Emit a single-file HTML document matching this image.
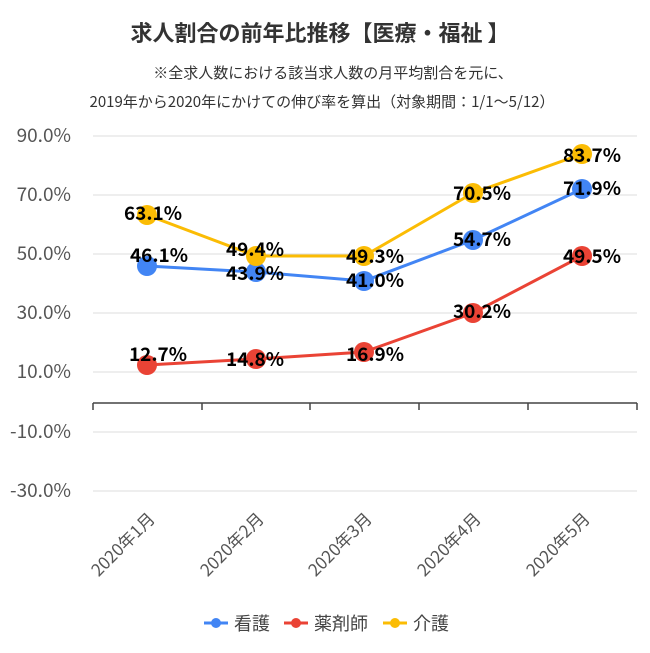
<!DOCTYPE html>
<html><head><meta charset="utf-8"><style>
body{margin:0;background:#fff;}
svg text{font-family:"Noto Sans CJK JP","Liberation Sans",sans-serif;}
</style></head><body>
<svg width="650" height="648" viewBox="0 0 650 648" xmlns="http://www.w3.org/2000/svg">
<rect width="650" height="648" fill="#fff"/>
<text x="320" y="41" text-anchor="middle" font-size="22" font-weight="bold" fill="#333">求人割合の前年比推移【医療・福祉 】</text>
<text x="333" y="78" text-anchor="middle" font-size="15" fill="#333">※全求人数における該当求人数の月平均割合を元に、</text>
<text x="322" y="107" text-anchor="middle" font-size="15" fill="#333">2019年から2020年にかけての伸び率を算出（対象期間：1/1〜5/12）</text>
<g stroke="#ddd" stroke-width="1">
<line x1="93" x2="637" y1="136" y2="136"/><line x1="93" x2="637" y1="195" y2="195"/>
<line x1="93" x2="637" y1="254" y2="254"/><line x1="93" x2="637" y1="313" y2="313"/>
<line x1="93" x2="637" y1="372" y2="372"/><line x1="93" x2="637" y1="432" y2="432"/>
<line x1="93" x2="637" y1="491" y2="491"/>
</g>
<g stroke="#444" stroke-width="1.5">
<line x1="93" x2="637" y1="403" y2="403"/>
<line x1="93" x2="93" y1="403" y2="410"/><line x1="202" x2="202" y1="403" y2="410"/>
<line x1="310" x2="310" y1="403" y2="410"/><line x1="419" x2="419" y1="403" y2="410"/>
<line x1="528" x2="528" y1="403" y2="410"/><line x1="637" x2="637" y1="403" y2="410"/>
</g>
<g font-size="19" fill="#555" text-anchor="end">
<text x="71" y="142">90.0%</text><text x="71" y="201">70.0%</text><text x="71" y="260">50.0%</text>
<text x="71" y="319">30.0%</text><text x="71" y="378">10.0%</text><text x="71" y="438">-10.0%</text>
<text x="71" y="497">-30.0%</text>
</g>
<g font-size="17" fill="#555" text-anchor="end">
<text transform="translate(156,520) rotate(-45)">2020年1月</text>
<text transform="translate(265,520) rotate(-45)">2020年2月</text>
<text transform="translate(373,520) rotate(-45)">2020年3月</text>
<text transform="translate(482,520) rotate(-45)">2020年4月</text>
<text transform="translate(591,520) rotate(-45)">2020年5月</text>
</g>
<polyline fill="none" stroke="#4285f4" stroke-width="3" points="147,266 256,272 364,281 473,240 582,189"/>
<polyline fill="none" stroke="#ea4335" stroke-width="3" points="147,365 256,359 364,352 473,313 582,256"/>
<polyline fill="none" stroke="#fbbc04" stroke-width="3" points="147,215 256,256 364,256 473,193 582,154"/>
<g fill="#4285f4"><circle cx="147" cy="266" r="10"/><circle cx="256" cy="272" r="10"/><circle cx="364" cy="281" r="10"/><circle cx="473" cy="240" r="10"/><circle cx="582" cy="189" r="10"/></g>
<g fill="#ea4335"><circle cx="147" cy="365" r="10"/><circle cx="256" cy="359" r="10"/><circle cx="364" cy="352" r="10"/><circle cx="473" cy="313" r="10"/><circle cx="582" cy="256" r="10"/></g>
<g fill="#fbbc04"><circle cx="147" cy="215" r="10"/><circle cx="256" cy="256" r="10"/><circle cx="364" cy="256" r="10"/><circle cx="473" cy="193" r="10"/><circle cx="582" cy="154" r="10"/></g>
<g font-size="19" font-weight="bold" fill="#000" text-anchor="middle">
<text x="153" y="220">63.1%</text><text x="255" y="256">49.4%</text><text x="375" y="263">49.3%</text><text x="482" y="200">70.5%</text><text x="592" y="162">83.7%</text>
<text x="159" y="262">46.1%</text><text x="255" y="280">43.9%</text><text x="375" y="287">41.0%</text><text x="482" y="246">54.7%</text><text x="592" y="195">71.9%</text>
<text x="158" y="361">12.7%</text><text x="255" y="366">14.8%</text><text x="375" y="361">16.9%</text><text x="482" y="318">30.2%</text><text x="592" y="263">49.5%</text>
</g>
<g font-size="18" fill="#444">
<line x1="204" x2="228" y1="623" y2="623" stroke="#4285f4" stroke-width="3"/><circle cx="216" cy="623" r="5" fill="#4285f4"/>
<text x="234" y="630">看護</text>
<line x1="284" x2="308" y1="623" y2="623" stroke="#ea4335" stroke-width="3"/><circle cx="296" cy="623" r="5" fill="#ea4335"/>
<text x="314" y="630">薬剤師</text>
<line x1="383" x2="407" y1="623" y2="623" stroke="#fbbc04" stroke-width="3"/><circle cx="395" cy="623" r="5" fill="#fbbc04"/>
<text x="413" y="630">介護</text>
</g>
</svg>
</body></html>
